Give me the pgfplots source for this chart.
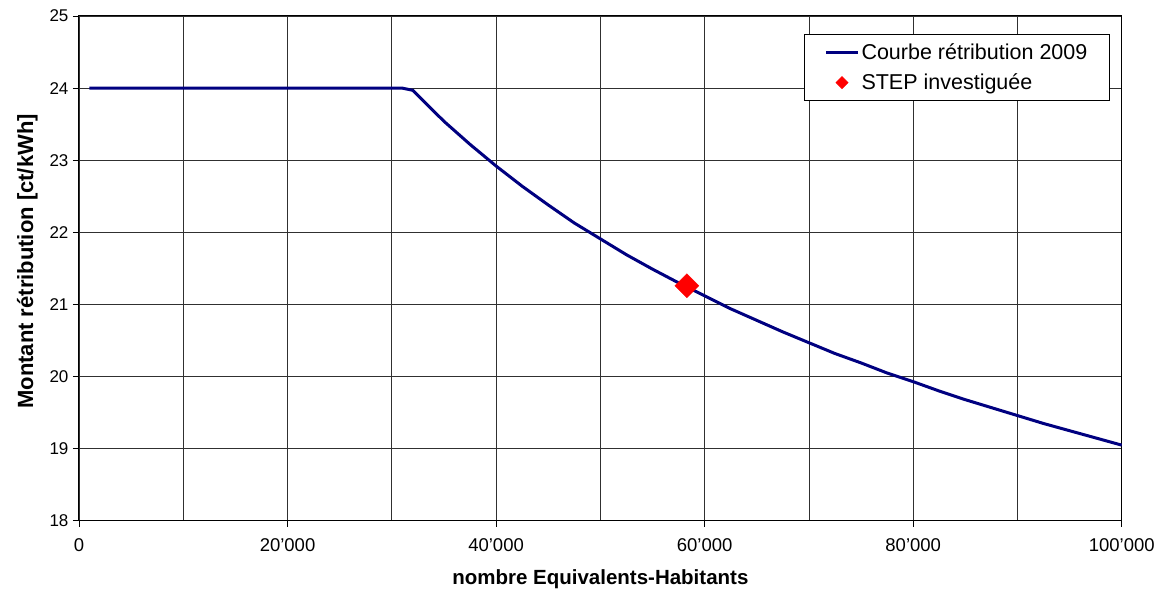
\documentclass[border=0pt]{standalone}
\usepackage{fontspec}
\setmainfont{Liberation Sans}
\usepackage{pgfplots}
\pgfplotsset{compat=1.18}
\usetikzlibrary{calc}
\definecolor{courbe}{HTML}{000080}
\definecolor{grille}{HTML}{303030}

\begin{document}
\begin{tikzpicture}
\begin{axis}[
  name=ax,
  scale only axis,
  width=1043pt, height=505pt,
  xmin=0, xmax=100000, ymin=18, ymax=25,
  xtick={0,20000,40000,60000,80000,100000},
  xticklabels={0,20'000,40'000,60'000,80'000,100'000},
  minor xtick={10000,30000,50000,70000,90000},
  ytick={18,19,...,25},
  grid=both,
  major grid style={grille, line width=0.8pt},
  minor grid style={grille, line width=0.8pt},
  axis line style={black, line width=1pt},
  tick style={black, line width=0.8pt},
  major tick length=6pt, minor tick length=0pt,
  tick align=outside,
  xtick pos=bottom, ytick pos=left,
  scaled x ticks=false,
  /pgf/number format/assume math mode=true,
  yticklabel style={font=\fontsize{17}{19}\selectfont, xshift=-1pt},
  xticklabel style={font=\fontsize{18.5}{20}\selectfont, yshift=-8pt},
  xlabel={\bfseries nombre Equivalents-Habitants},
  ylabel={\bfseries Montant rétribution [ct/kWh]},
  xlabel style={font=\fontsize{20.5}{22}\selectfont, yshift=-11pt},
  ylabel style={font=\fontsize{22}{24}\selectfont, yshift=5pt, xshift=7pt},
  legend style={at={(0.9885,0.964)}, anchor=north east,
    draw=black, line width=0.8pt, fill=white,
    font=\fontsize{21.5}{24}\selectfont,
    row sep=9pt, inner xsep=20pt, inner ysep=7pt,
    legend cell align=left},
  legend image code/.code={\draw[#1, line width=3pt] (0pt,0pt) -- (32pt,0pt);},
]
\addplot[courbe, line width=3pt] coordinates {
  (1000,24.00) (10000,24.00) (20000,24.00) (31000,24.00) (32000,23.97)
  (35000,23.54) (37500,23.22) (40000,22.92) (42500,22.64) (45000,22.38)
  (47500,22.13) (50000,21.91) (52500,21.69) (55000,21.49) (57500,21.30)
  (60000,21.12) (62500,20.94) (65000,20.78) (67500,20.62) (70000,20.47)
  (72500,20.32) (75000,20.19) (77500,20.05) (80000,19.93) (82500,19.80)
  (85000,19.68) (87500,19.57) (90000,19.46) (92500,19.35) (95000,19.25)
  (97500,19.15) (100000,19.05)
};
\addlegendentry{Courbe rétribution 2009}
\addplot[forget plot, only marks, mark=square*, mark size=8.5pt, red, draw=red,
  mark options={rotate=45}]
  coordinates {(58300,21.26)};
\addlegendimage{only marks, red,
  legend image code/.code={\draw[red, fill=red] plot[mark=square*, mark size=4.2pt, mark options={rotate=45}] coordinates {(16pt,0pt)};}}
\addlegendentry{STEP investiguée}
\end{axis}
\draw[draw=none] ($(ax.south west)+(-79pt,-68pt)$) rectangle ($(ax.north east)+(36pt,16pt)$);
\end{tikzpicture}
\end{document}
